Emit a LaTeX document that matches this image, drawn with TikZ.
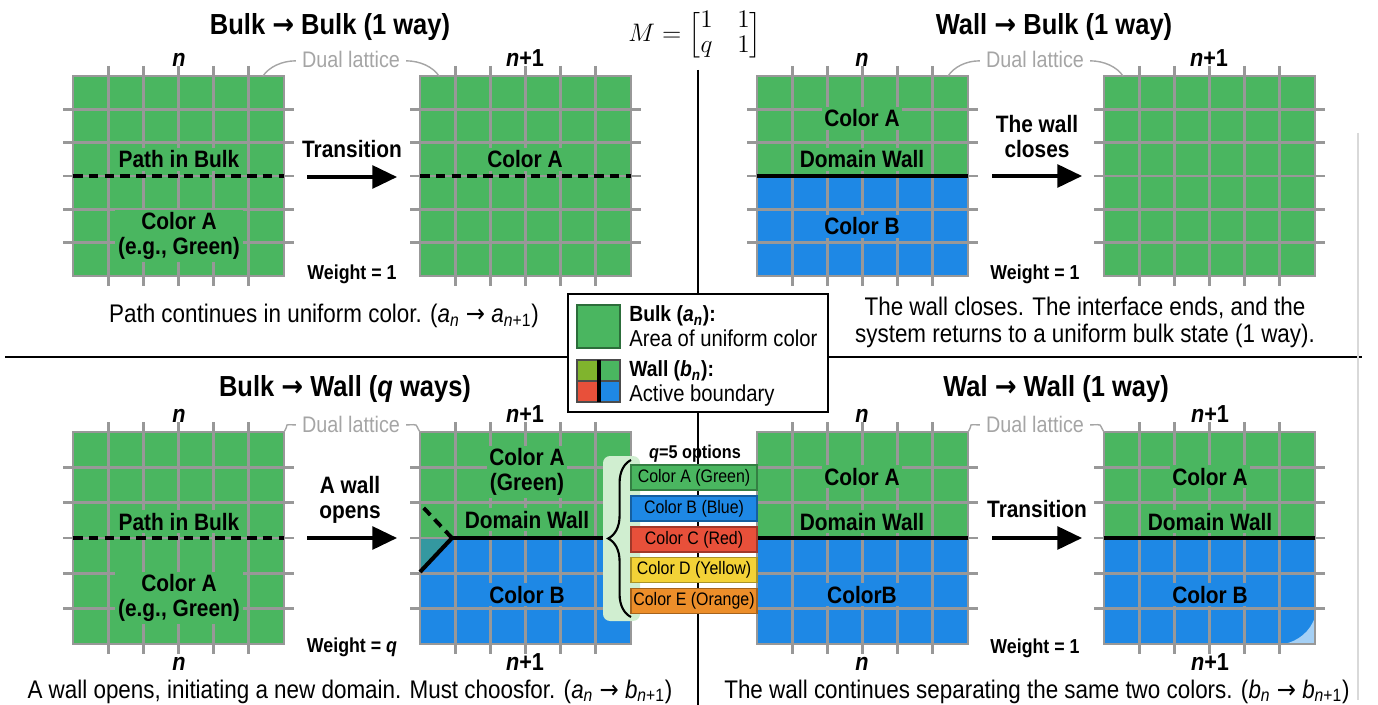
\documentclass[tikz,border=0pt]{standalone}
\usepackage{amsmath}
\usepackage{fontspec}
\setmainfont{Liberation Sans}[FakeStretch=0.88]
\newfontfamily\arrfont{DejaVu Sans}[FakeStretch=0.9]
\newcommand{\rarr}{{\arrfont →}}
\usetikzlibrary{arrows.meta}
\usetikzlibrary{decorations.pathreplacing}

\definecolor{latgreen}{RGB}{74,182,96}
\definecolor{latblue}{RGB}{30,136,229}
\definecolor{latgray}{RGB}{152,152,152}
\definecolor{dualgray}{RGB}{165,165,165}
\definecolor{optred}{RGB}{232,80,58}
\definecolor{optyellow}{RGB}{243,210,55}
\definecolor{optorange}{RGB}{236,142,42}
\definecolor{wallolive}{RGB}{128,180,45}
\definecolor{wallteal}{RGB}{52,152,160}
\definecolor{bracebg}{RGB}{208,238,208}
\definecolor{blobblue}{RGB}{165,208,245}

\begin{document}
\begin{tikzpicture}[x=0.02cm, y=-0.02cm,
  latline/.style={latgray, line width=1.6pt},
  divider/.style={line width=1.1pt},
  title/.style={anchor=base, font=\bfseries\fontsize{16.5}{19}\selectfont},
  nlbl/.style={anchor=base, font=\bfseries\fontsize{14}{16}\selectfont},
  dual/.style={anchor=base, text=dualgray, font=\fontsize{12.8}{15}\selectfont},
  leader/.style={dualgray, line width=0.8pt},
  gl/.style={anchor=base, fill=latgreen, inner sep=1.5pt, align=center, font=\bfseries\fontsize{13.5}{14}\selectfont},
  gb/.style={gl, fill=latblue},
  steplbl/.style={align=center, font=\bfseries\fontsize{13.5}{14.2}\selectfont},
  weight/.style={anchor=base, font=\bfseries\fontsize{11.5}{14}\selectfont},
  caption/.style={align=center, font=\fontsize{14.5}{15.3}\selectfont},
  bigarrow/.style={line width=1.8pt, -{Triangle[length=14pt,width=13pt]}},
  wall/.style={line width=2.3pt},
  bulkpath/.style={line width=2pt, dash pattern=on 5.5pt off 3.5pt},
  optbox/.style={draw=#1!70!black, fill=#1, line width=0.8pt, minimum width=2.52cm,
    minimum height=0.5cm, inner sep=0pt, text=black, font=\fontsize{10.3}{12}\selectfont}]
  \useasboundingbox (0,0) rectangle (1378,705);

  % panel dividers
  \coordinate (divtop) at (698,70);
  \coordinate (divbot) at (698,705);
  \coordinate (hleft) at (5,357);
  \coordinate (hright) at (1362,357);
  \draw[divider] (divtop) -- (divbot);
  \draw[divider] (hleft) -- (hright);
  \draw[gray!30, line width=0.8pt] (1358,133) -- (1358,700);

  % colour regions
  \fill[latgreen] (73,76) rectangle (284,276);
  \fill[latgreen] (420,76) rectangle (631,276);
  \fill[latgreen] (757,76) rectangle (968,176);
  \fill[latblue] (757,176) rectangle (968,276);
  \fill[latgreen] (1104,76) rectangle (1315,276);
  \fill[latgreen] (73,432) rectangle (284,644);
  \fill[latgreen] (420,432) rectangle (631,538);
  \fill[latblue] (420,538) rectangle (631,644);
  \fill[wallteal] (420,538) -- (452,538) -- (420,572) -- cycle;
  \fill[latgreen] (757,432) rectangle (968,538);
  \fill[latblue] (757,538) rectangle (968,644);
  \fill[latgreen] (1104,432) rectangle (1315,538);
  \fill[latblue] (1104,538) rectangle (1315,644);
  \fill[blobblue] (1315,617) .. controls (1310,632) and (1298,641) .. (1284,644) -- (1315,644) -- cycle;

  % dual lattices
  \foreach \gx/\gy/\gh in {73/76/200, 420/76/200, 757/76/200, 1104/76/200,
                           73/432/212, 420/432/212, 757/432/212, 1104/432/212} {
    \foreach \k in {1,...,5} {
      \draw[latline] ({\gx+\k*211/6},{\gy-10}) -- ({\gx+\k*211/6},{\gy+\gh+10});
      \draw[latline] ({\gx-10},{\gy+\k*\gh/6}) -- ({\gx+221},{\gy+\k*\gh/6});
    }
    \draw[latline] (\gx,\gy) rectangle ({\gx+211},{\gy+\gh});
  }

  % paths and walls
  \draw[bulkpath] (73,176) -- (284,176);
  \draw[bulkpath] (420,176) -- (631,176);
  \draw[wall] (757,176) -- (968,176);
  \draw[bulkpath] (73,538) -- (284,538);
  \coordinate (wj) at (452,538);
  \draw[wall] (wj) -- (604,538);
  \draw[wall] (wj) -- (420,572);
  \draw[bulkpath, line width=2.2pt] (wj) -- (420,504);
  \draw[wall] (757,538) -- (968,538);
  \draw[wall] (1104,538) -- (1315,538);

  % titles
  \node[title] (t1) at (330,35) {Bulk \rarr{} Bulk (1 way)};
  \node[title] (t2) at (1054,35) {Wall \rarr{} Bulk (1 way)};
  \node[title] (t3) at (345,397) {Bulk \rarr{} Wall (\textit{q} ways)};
  \node[title] (t4) at (1056,397) {Wal \rarr{} Wall (1 way)};
  \node[anchor=north, font=\fontsize{13.5}{14}\selectfont, inner sep=0pt] (mat) at (695,10)
    {$\arraycolsep=7pt M=\begin{bmatrix}1 & 1\\ q & 1\end{bmatrix}$};

  % step labels n, n+1
  \node[nlbl] (n1) at (179,67) {\textit{n}};
  \node[nlbl] (n2) at (525,67) {\textit{n}+1};
  \node[nlbl] (n3) at (862,67) {\textit{n}};
  \node[nlbl] (n4) at (1209,67) {\textit{n}+1};
  \node[nlbl] (n5) at (179,422) {\textit{n}};
  \node[nlbl] (n6) at (525,422) {\textit{n}+1};
  \node[nlbl] (n7) at (862,422) {\textit{n}};
  \node[nlbl] (n8) at (1210,422) {\textit{n}+1};
  \node[nlbl] (n9) at (179,670) {\textit{n}};
  \node[nlbl] (n10) at (525,670) {\textit{n}+1};
  \node[nlbl] (n11) at (862,670) {\textit{n}};
  \node[nlbl] (n12) at (1210,670) {\textit{n}+1};

  % dual lattice callouts
  \node[dual] (dualA) at (351,68) {Dual lattice};
  \node[dual] (dualB) at (1035,68) {Dual lattice};
  \node[dual] (dualC) at (351,432) {Dual lattice};
  \node[dual] (dualD) at (1035,432) {Dual lattice};
  \coordinate (ldA1) at (263,76);  \coordinate (ldA2) at (439,76);
  \coordinate (ldB1) at (948,76);  \coordinate (ldB2) at (1123,76);
  \coordinate (ldC1) at (284,432); \coordinate (ldC2) at (420,432);
  \coordinate (ldD1) at (968,432); \coordinate (ldD2) at (1104,432);
  \foreach \d in {A,B,C,D} {
    \draw[leader] ([yshift=-0.5pt]dual\d.west) .. controls +(-14,0) and +(6,-9) .. (ld\d1);
    \draw[leader] ([yshift=-0.5pt]dual\d.east) .. controls +(14,0) and +(-6,-9) .. (ld\d2);
  }

  % labels inside the lattices
  \node[gl] (pb1) at (179,168) {Path in Bulk};
  \node[gl, anchor=center] (ca1) at (179,236) {Color A\\(e.g., Green)};
  \node[gl] (ca2) at (525,168) {Color A};
  \node[gl] (ca3) at (862,127) {Color A};
  \node[gl] (dw3) at (862,168) {Domain Wall};
  \node[gb] (cb3) at (862,235) {Color B};
  \node[gl] (pb5) at (179,530) {Path in Bulk};
  \node[gl, anchor=center] (ca5) at (179,598) {Color A\\(e.g., Green)};
  \node[gl, anchor=center] (ca6) at (527,472) {Color A\\(Green)};
  \node[gl] (dw6) at (527,528) {Domain Wall};
  \node[gb] (cb6) at (527,603) {Color B};
  \node[gl] (ca7) at (862,485) {Color A};
  \node[gl] (dw7) at (862,530) {Domain Wall};
  \node[gb] (cb7) at (862,603) {ColorB};
  \node[gl] (ca8) at (1210,485) {Color A};
  \node[gl] (dw8) at (1210,530) {Domain Wall};
  \node[gb] (cb8) at (1210,603) {Color B};

  % transitions
  \coordinate (a1s) at (307,177); \coordinate (a1e) at (397,177);
  \coordinate (a2s) at (992,176); \coordinate (a2e) at (1082,176);
  \coordinate (a3s) at (307,538); \coordinate (a3e) at (397,538);
  \coordinate (a4s) at (992,538); \coordinate (a4e) at (1082,538);
  \draw[bigarrow] (a1s) -- (a1e);
  \draw[bigarrow] (a2s) -- (a2e);
  \draw[bigarrow] (a3s) -- (a3e);
  \draw[bigarrow] (a4s) -- (a4e);
  \node[steplbl, anchor=base] (tr1) at (352,158) {Transition};
  \node[steplbl] (tr2) at (1037,137) {The wall\\closes};
  \node[steplbl] (tr3) at (350,500) {A wall\\opens};
  \node[steplbl, anchor=base] (tr4) at (1037,517) {Transition};
  \node[weight] (w1) at (352,280) {Weight = 1};
  \node[weight] (w2) at (1035,280) {Weight = 1};
  \node[weight] (w3) at (352,652) {Weight = \textit{q}};
  \node[weight] (w4) at (1035,653) {Weight = 1};

  % captions
  \node[caption, anchor=base] (cap1) at (324,323)
    {Path continues in uniform color. (\textit{a}\textsubscript{\textit{n}} \rarr{} \textit{a}\textsubscript{\textit{n}+1})};
  \node[caption] (cap2) at (1085,322)
    {The wall closes. The interface ends, and the\\system returns to a uniform bulk state (1 way).};
  \node[caption, anchor=base] (cap3) at (350,698)
    {A wall opens, initiating a new domain. Must choosfor. (\textit{a}\textsubscript{\textit{n}} \rarr{} \textit{b}\textsubscript{\textit{n}+1})};
  \node[caption, anchor=base] (cap4) at (1037,698)
    {The wall continues separating the same two colors. (\textit{b}\textsubscript{\textit{n}} \rarr{} \textit{b}\textsubscript{\textit{n}+1})};

  % q colour options
  \fill[bracebg, rounded corners=4pt] (603,456) rectangle (640,621);
  \draw[decorate, decoration={brace, amplitude=13pt}, line width=1.2pt] (631,617) -- (631,460);
  \node[anchor=base, font=\bfseries\fontsize{10.5}{12}\selectfont] (qopt) at (695,458) {\textit{q}=5 options};
  \node[optbox=latgreen] (optA) at (694,477.5) {Color A (Green)};
  \node[optbox=latblue] (optB) at (694,508.5) {Color B (Blue)};
  \node[optbox=optred] (optC) at (694,539.5) {Color C (Red)};
  \node[optbox=optyellow] (optD) at (694,570) {Color D (Yellow)};
  \node[optbox=optorange] (optE) at (694,601) {Color E (Orange)};

  % legend
  \node[draw, fill=white, line width=0.9pt, minimum width=5.2cm, minimum height=2.36cm] (legend) at (698,353) {};
  \fill[latgreen, draw=latgreen!60!black, line width=0.6pt] (577,305) rectangle (620,348);
  \fill[wallolive] (577,360) rectangle (599,381);
  \fill[latgreen] (599,360) rectangle (620,381);
  \fill[optred] (577,381) rectangle (599,402);
  \fill[latblue] (599,381) rectangle (620,402);
  \draw[black!70, line width=0.6pt] (577,360) rectangle (620,402);
  \draw[black!70, line width=0.6pt] (577,381) -- (620,381);
  \draw[line width=2.6pt] (599,360) -- (599,402);
  \node[anchor=base west, inner sep=0pt, font=\bfseries\fontsize{12.5}{14}\selectfont] (lg1) at (629,322)
    {Bulk (\textit{a}\textsubscript{\textit{n}}):};
  \node[anchor=base west, inner sep=0pt, font=\fontsize{13.1}{14}\selectfont] (lg2) at (629,347) {Area of uniform color};
  \node[anchor=base west, inner sep=0pt, font=\bfseries\fontsize{12.5}{14}\selectfont] (lg3) at (629,377)
    {Wall (\textit{b}\textsubscript{\textit{n}}):};
  \node[anchor=base west, inner sep=0pt, font=\fontsize{13.1}{14}\selectfont] (lg4) at (629,401) {Active boundary};
\end{tikzpicture}
\end{document}
